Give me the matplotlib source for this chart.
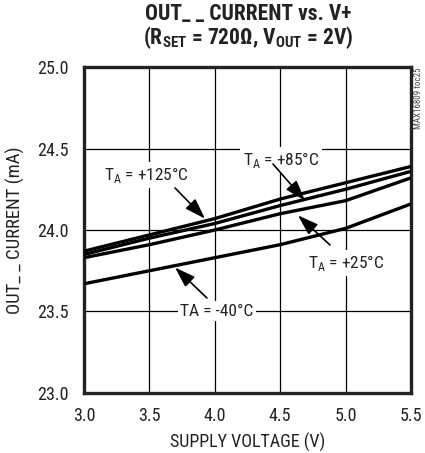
import matplotlib
matplotlib.use('Agg')
import matplotlib.pyplot as plt
from matplotlib import font_manager

# pick a narrow sans face if one is installed
names = {f.name for f in font_manager.fontManager.ttflist}
face = next(n for n in ['Liberation Sans Narrow', 'DejaVu Sans Condensed',
                        'Roboto Condensed', 'Liberation Sans', 'DejaVu Sans']
            if n in names)

plt.rcParams['font.family'] = [face, 'DejaVu Sans']
plt.rcParams['font.stretch'] = 'condensed'
plt.rcParams['mathtext.fontset'] = 'custom'
plt.rcParams['mathtext.rm'] = face
plt.rcParams['mathtext.bf'] = face + ':bold'

# supply voltage (V) and output current (mA) per ambient temperature
volts = [3.0, 3.5, 4.0, 4.5, 5.0, 5.5]
i_125 = [23.87, 23.97, 24.07, 24.19, 24.29, 24.39]
i_85 = [23.85, 23.95, 24.04, 24.15, 24.25, 24.36]
i_25 = [23.83, 23.91, 24.00, 24.10, 24.18, 24.32]
i_m40 = [23.67, 23.75, 23.83, 23.91, 24.01, 24.16]

xticks = [3.0, 3.5, 4.0, 4.5, 5.0, 5.5]
yticks = [23.0, 23.5, 24.0, 24.5, 25.0]

fig = plt.figure(figsize=(4.25, 4.53), dpi=100)
ax = fig.add_axes([0.1976, 0.1325, 0.7694, 0.7195])

for s in (i_125, i_85, i_25, i_m40):
    ax.plot(volts, s, color='black', lw=2.4, solid_capstyle='butt', zorder=3)

ax.set_xlim(3.0, 5.5)
ax.set_ylim(23.0, 25.0)
ax.set_xticks(xticks)
ax.set_yticks(yticks)
ax.set_xticklabels(['%.1f' % v for v in xticks])
ax.set_yticklabels(['%.1f' % v for v in yticks])
ax.tick_params(length=0, labelsize=13, colors='#222222')
ax.tick_params(axis='x', pad=10)
ax.tick_params(axis='y', pad=11)
ax.grid(True, color='black', lw=0.9)
for sp in ax.spines.values():
    sp.set_linewidth(2.4)
    sp.set_color('#222222')

ax.set_xlabel('SUPPLY VOLTAGE (V)', fontsize=13, labelpad=6, color='#222222')
ax.set_ylabel('OUT_ _ CURRENT (mA)', fontsize=13.5, labelpad=9, color='#222222')

fig.text(0.585, 0.968, 'OUT_ _ CURRENT vs. V+', ha='center', va='center',
         fontsize=15.5, fontweight='bold', color='#222222')
fig.text(0.583, 0.918, r'(R$_{\mathbf{SET}}$ = 720Ω, V$_{\mathbf{OUT}}$ = 2V)',
         ha='center', va='center', fontsize=15.5, fontweight='bold', color='#222222')
fig.text(0.985, 0.852, 'MAX16809 toc25', rotation=90, ha='center', va='top',
         fontsize=6.5, color='#444444')

box = dict(fc='white', ec='none', pad=2)
arrow = dict(arrowstyle='-|>,head_length=0.9,head_width=0.3', color='black',
             lw=1.2, mutation_scale=14, shrinkA=0, shrinkB=0)

labels = [
    (r'T$_\mathrm{A}$ = +125°C', (3.48, 24.337), (3.696, 24.258), (3.925, 24.07)),
    (r'T$_\mathrm{A}$ = +85°C', (4.506, 24.429), (4.445, 24.405), (4.69, 24.18)),
    (r'T$_\mathrm{A}$ = +25°C', (5.003, 23.798), (4.881, 23.908), (4.636, 24.09)),
    ('TA = -40°C', (4.017, 23.503), (3.94, 23.583), (3.696, 23.77)),
]
for txt, pos, tail, tip in labels:
    ax.text(pos[0], pos[1], txt, ha='center', va='center', fontsize=12.5,
            color='#222222', bbox=box, zorder=4)
    ax.annotate('', xy=tip, xytext=tail, arrowprops=arrow, zorder=5)

fig.savefig('out.png', dpi=100)
